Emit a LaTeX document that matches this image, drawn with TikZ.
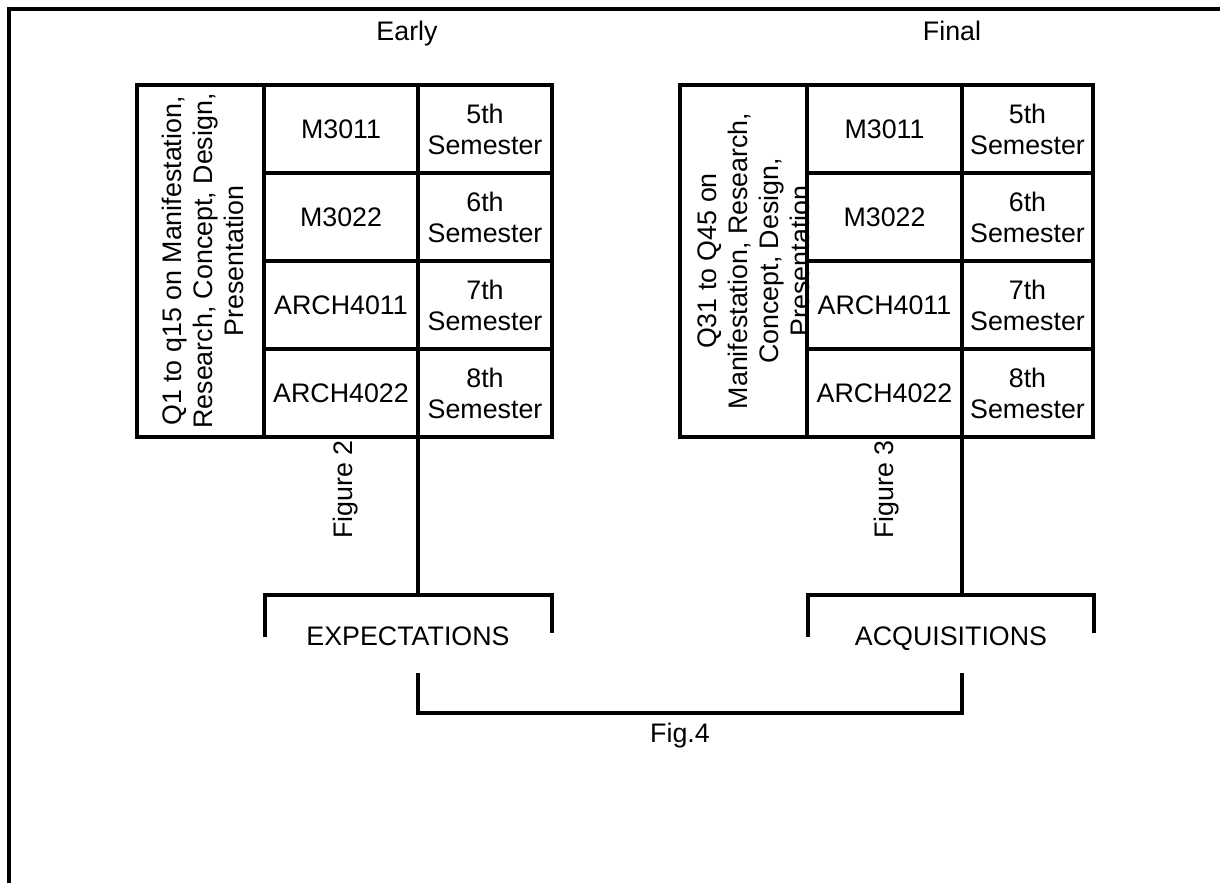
\documentclass[tikz,border=0pt]{standalone}
\usepackage{fontspec}
\setmainfont{Liberation Sans}
\begin{document}
\begin{tikzpicture}[x=1pt,y=-1pt,
  font=\fontsize{26.8}{31}\selectfont,
  cell/.style={draw, line width=3.8pt, inner sep=0pt, outer sep=0pt, align=center,
               minimum width=#1, minimum height=88pt},
  rottext/.style={rotate=90, align=center, inner sep=0pt},
  label/.style={inner sep=0pt, anchor=base},
  conn/.style={line width=4pt, line join=miter}]
\useasboundingbox (0,0) rectangle (1220,883);
\fill[white] (0,0) rectangle (1220,883);
% outer frame
\draw[line width=4pt] (1220,9) -- (9,9) -- (9,883);
% titles
\node[label] (early) at (407,41) {Early};
\node[label] (final) at (952,41) {Final};
% ---------- left table ----------
\node[cell=127pt, minimum height=352pt] (Lq) at (200.5,261) {};
\node[rottext] (Lqt) at (203,261) {Q1 to q15 on Manifestation,\\Research, Concept, Design,\\Presentation};
\node[cell=154pt] (L21) at (341,129) {M3011};
\node[cell=154pt] (L22) at (341,217) {M3022};
\node[cell=154pt] (L23) at (341,305) {ARCH4011};
\node[cell=154pt] (L24) at (341,393) {ARCH4022};
\node[cell=134pt] (L31) at (485,129) {5th\\Semester};
\node[cell=134pt] (L32) at (485,217) {6th\\Semester};
\node[cell=134pt] (L33) at (485,305) {7th\\Semester};
\node[cell=134pt] (L34) at (485,393) {8th\\Semester};
% ---------- right table ----------
\node[cell=127pt, minimum height=352pt] (Rq) at (743.5,261) {};
\node[rottext] (Rqt) at (754,261) {Q31 to Q45 on\\Manifestation, Research,\\Concept, Design,\\Presentation};
\node[cell=155pt] (R21) at (884.5,129) {M3011};
\node[cell=155pt] (R22) at (884.5,217) {M3022};
\node[cell=155pt] (R23) at (884.5,305) {ARCH4011};
\node[cell=155pt] (R24) at (884.5,393) {ARCH4022};
\node[cell=131pt] (R31) at (1027.5,129) {5th\\Semester};
\node[cell=131pt] (R32) at (1027.5,217) {6th\\Semester};
\node[cell=131pt] (R33) at (1027.5,305) {7th\\Semester};
\node[cell=131pt] (R34) at (1027.5,393) {8th\\Semester};
% figure labels
\node[rottext, anchor=base east] (f2) at (352,440) {Figure 2};
\node[rottext, anchor=base east] (f3) at (893,440) {Figure 3};
% connectors down to brackets
\coordinate (LJ) at (418,595);
\coordinate (RJ) at (962,595);
\draw[conn] (L34.south west) -- (LJ);
\draw[conn] (R34.south west) -- (RJ);
% brackets
\draw[conn] (265,637) -- (265,595) -- (552,595) -- (552,633);
\draw[conn] (808,637) -- (808,595) -- (1094,595) -- (1094,633);
\node[label] (exp) at (408,645) {EXPECTATIONS};
\node[label] (acq) at (951,645) {ACQUISITIONS};
% bottom bracket
\coordinate (BL) at (418,673);
\coordinate (BR) at (962,673);
\draw[conn] (BL) -- (418,713) -- (962,713) -- (BR);
\node[label] (fig4) at (680,742) {Fig.4};
\end{tikzpicture}
\end{document}
